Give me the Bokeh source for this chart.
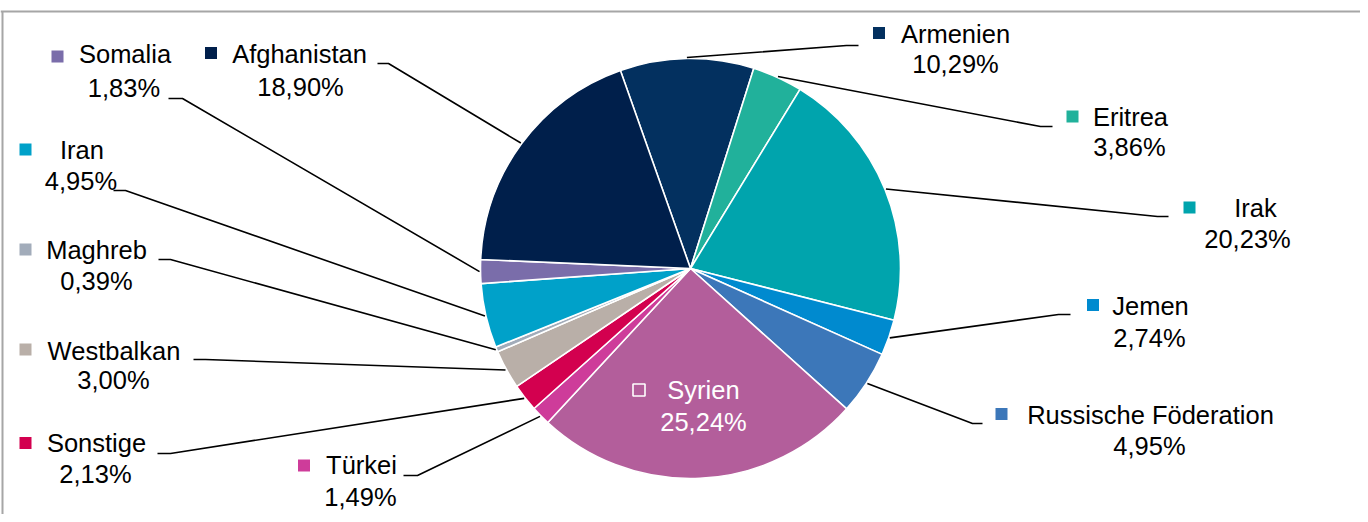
import math
from bokeh.plotting import figure
from bokeh.models import Range1d, ColumnDataSource
from bokeh.embed import file_html
from bokeh.resources import INLINE
from bokeh.core.properties import value

# ---- data (clockwise, starting with Armenien) ----
categories = ["Armenien", "Eritrea", "Irak", "Jemen", "Russische Föderation", "Syrien",
              "Türkei", "Sonstige", "Westbalkan", "Maghreb", "Iran", "Somalia", "Afghanistan"]
shares = [10.29, 3.86, 20.23, 2.74, 4.95, 25.24, 1.49, 2.13, 3.00, 0.39, 4.95, 1.83, 18.90]
colors = ["#03305F", "#21B19B", "#00A4AD", "#008ACF", "#3C77B9", "#B35E9B",
          "#CE3C9A", "#D3004F", "#B9AFA8", "#A2ACBA", "#00A1C9", "#7A6DAA", "#001F4B"]

# ---- layout (pixel positions of label parts, relative to the chart's top-left) ----
# marker cx, cy, line1 cx, baseline1, line2 cx, baseline2, elbow x, elbow y, end x
layout = {
    "Armenien":             (878.5, 32.5, 955, 43, 955, 73, 846, 45, 858),
    "Eritrea":              (1072, 116, 1130, 126, 1129, 156, 1040, 126, 1052),
    "Irak":                 (1189, 207, 1255, 217, 1247, 248, 1157, 216, 1168),
    "Jemen":                (1092.5, 304.5, 1150, 315, 1149, 347, 1058, 314, 1070),
    "Russische Föderation": (1001, 413.5, 1150, 424, 1149, 455, 972, 423, 982),
    "Syrien":               (638.5, 389.5, 703, 399, 703, 431, None, None, None),
    "Türkei":               (303.5, 465, 361, 474, 360, 506, 417, 475, 403),
    "Sonstige":             (25, 442.5, 96, 452, 95, 483, 170, 453, 157),
    "Westbalkan":           (25, 349, 113.5, 360, 113, 389, 205, 359, 193),
    "Maghreb":              (25, 249, 96, 259, 96, 290, 170, 259, 158),
    "Iran":                 (25, 149, 81.5, 159, 80.5, 190, 125, 190, 113),
    "Somalia":              (57, 56, 124.5, 63, 123.5, 97, 182, 98, 168),
    "Afghanistan":          (210.5, 52.5, 299, 63, 300, 96, 388, 63, 377),
}

W, H = 1360, 514
FS = 25.5
MID = 0.355 * FS  # baseline -> middle of capitals


def Y(sy):
    return H - sy


cx, cy, r = 690, Y(268), 210
start_cw = -19.5  # degrees clockwise from 12 o'clock

p = figure(width=W, height=H, x_range=Range1d(0, W), y_range=Range1d(0, H),
           output_backend="svg", toolbar_location=None, min_border=0,
           x_axis_location=None, y_axis_location=None)
p.xgrid.visible = False
p.ygrid.visible = False
p.outline_line_color = None
p.background_fill_color = "white"
p.border_fill_color = "white"

total = sum(shares)
starts, ends, mids = [], [], []
acc = start_cw
for v in shares:
    a1 = acc
    a2 = acc + v / total * 360.0
    starts.append(math.radians(90 - a2))
    ends.append(math.radians(90 - a1))
    mids.append((a1 + a2) / 2)
    acc = a2

src = ColumnDataSource(dict(cat=categories, start=starts, end=ends, color=colors))
p.wedge(x=cx, y=cy, radius=r, start_angle="start", end_angle="end", direction="anticlock",
        fill_color="color", line_color="white", line_width=1.6, source=src)

# leader lines
xs, ys = [], []
for cat, m in zip(categories, mids):
    L = layout[cat]
    if L[6] is None:
        continue
    px = cx + (r + 1) * math.sin(math.radians(m))
    py = cy + (r + 1) * math.cos(math.radians(m))
    xs.append([px, L[6], L[8]])
    ys.append([py, Y(L[7]), Y(L[7])])
p.multi_line(xs=xs, ys=ys, line_color="black", line_width=1.6)

# markers and texts
font = value("Liberation Sans")
fs = f"{FS}px"
for cat, v, col in zip(categories, shares, colors):
    L = layout[cat]
    inside = cat == "Syrien"
    if inside:
        p.rect(x=[L[0]], y=[Y(L[1])], width=12, height=12, fill_color=None,
               line_color="white", line_width=1.6)
    else:
        p.rect(x=[L[0]], y=[Y(L[1])], width=12, height=12, fill_color=col, line_color=None)
    tc = "white" if inside else "black"
    pct = f"{v:.2f}".replace(".", ",") + "%"
    p.text(x=[L[2]], y=[Y(L[3] - MID)], text=[cat], text_align="center", text_baseline="middle",
           text_font=font, text_font_size=fs, text_color=tc)
    p.text(x=[L[4]], y=[Y(L[5] - MID)], text=[pct], text_align="center", text_baseline="middle",
           text_font=font, text_font_size=fs, text_color=tc)

# chart frame (top and left edges visible)
p.segment(x0=[0, 2], y0=[Y(11), Y(11)], x1=[W, 2], y1=[Y(11), 0],
          line_color="#A6A6A6", line_width=2)

open("out.html", "w").write(file_html(p, INLINE))
